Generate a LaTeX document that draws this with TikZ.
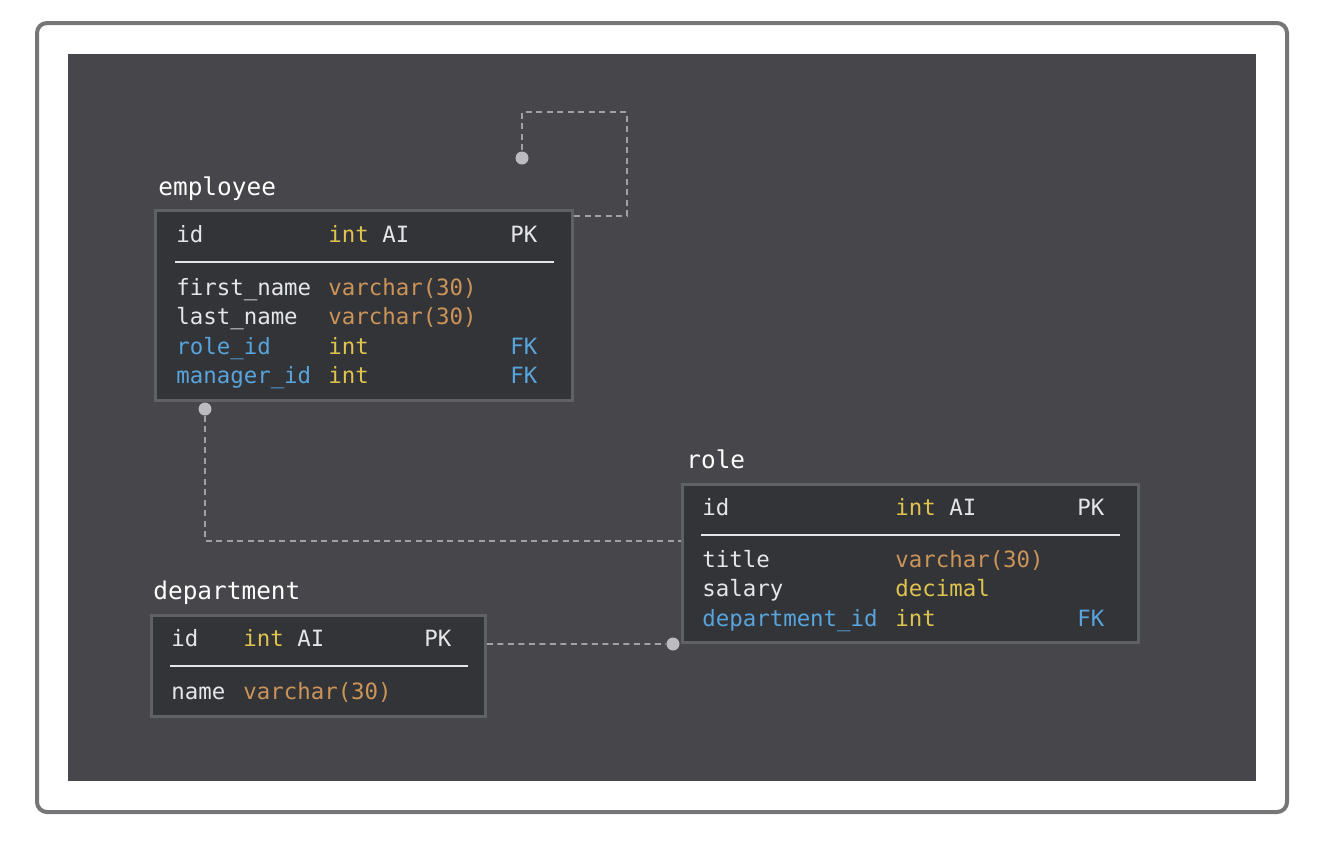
\documentclass[tikz,border=0pt]{standalone}
\usepackage{fontspec}
\setmonofont{DejaVu Sans Mono}
\usepackage{tikz}
\usetikzlibrary{positioning,calc}
\usepackage{xcolor}
\definecolor{framecolor}{RGB}{118, 118, 120}
\definecolor{bgcolor}{RGB}{70, 70, 75}
\definecolor{tblcolor}{RGB}{51, 52, 56}
\definecolor{tbledge}{RGB}{96, 97, 102}
\definecolor{txtcolor}{RGB}{230, 230, 232}
\definecolor{intcolor}{RGB}{222, 196, 78}
\definecolor{varcolor}{RGB}{204, 148, 88}
\definecolor{fkcolor}{RGB}{88, 164, 220}
\definecolor{linkcolor}{RGB}{160, 160, 165}
\definecolor{dotcolor}{RGB}{188, 188, 192}
\newcommand{\ity}[1]{\textcolor{intcolor}{#1}}
\newcommand{\vty}[1]{\textcolor{varcolor}{#1}}
\newcommand{\fk}[1]{\textcolor{fkcolor}{#1}}

\begin{document}
\begin{tikzpicture}[
    x=0.02cm, y=-0.02cm,
    font=\ttfamily\fontsize{12.75}{15}\selectfont,
    tbl/.style={draw=tbledge, fill=tblcolor, line width=0.06cm, inner sep=0pt},
    title/.style={anchor=west, inner sep=0pt, text=white, font=\ttfamily\fontsize{13.9}{16}\selectfont, text height=10pt, text depth=0pt},
    cell/.style={anchor=west, inner sep=0pt, text=txtcolor, text height=9.3pt, text depth=0pt},
    rule/.style={draw=txtcolor, line width=0.04cm},
    link/.style={draw=linkcolor, line width=0.035cm, dash pattern=on 0.12cm off 0.09cm},
    dot/.style={circle, fill=dotcolor, inner sep=0pt, minimum size=0.26cm}
]
    \useasboundingbox (0,0) rectangle (1318,850);
    % Frame and canvas
    \draw[framecolor, line width=0.08cm, fill=white, rounded corners=0.2cm] (37,23) rectangle (1287,812);
    \fill[bgcolor] (68,54) rectangle (1256,781);

    % employee
    \node[title] (emptitle) at (158,187) {employee};
    \node[tbl, minimum width=8.36cm, minimum height=3.8cm] (employee) at (364,305.5) {};
    \draw[rule] (175,262) -- (554,262);
    \foreach \y/\a/\b/\c [count=\i] in {
        234/id/\ity{int} AI/PK,
        287/first\_name/\vty{varchar(30)}/,
        316/last\_name/\vty{varchar(30)}/,
        346/\fk{role\_id}/\ity{int}/\fk{FK},
        375/\fk{manager\_id}/\ity{int}/\fk{FK}} {
        \node[cell] (emp-a\i) at (176,\y) {\a};
        \node[cell] (emp-b\i) at (328,\y) {\b};
        \node[cell] (emp-c\i) at (510,\y) {\c};
    }

    % role
    \node[title] (roletitle) at (686,460) {role};
    \node[tbl, minimum width=9.12cm, minimum height=3.16cm] (role) at (910.5,563.5) {};
    \draw[rule] (701,535) -- (1120,535);
    \foreach \y/\a/\b/\c [count=\i] in {
        507/id/\ity{int} AI/PK,
        559/title/\vty{varchar(30)}/,
        588/salary/\ity{decimal}/,
        618/\fk{department\_id}/\ity{int}/\fk{FK}} {
        \node[cell] (role-a\i) at (702,\y) {\a};
        \node[cell] (role-b\i) at (895,\y) {\b};
        \node[cell] (role-c\i) at (1077,\y) {\c};
    }

    % department
    \node[title] (depttitle) at (153,591) {department};
    \node[tbl, minimum width=6.68cm, minimum height=2.02cm] (department) at (318.5,666) {};
    \draw[rule] (170,666) -- (468,666);
    \foreach \y/\a/\b/\c [count=\i] in {
        638/id/\ity{int} AI/PK,
        691/name/\vty{varchar(30)}/} {
        \node[cell] (dept-a\i) at (171,\y) {\a};
        \node[cell] (dept-b\i) at (243,\y) {\b};
        \node[cell] (dept-c\i) at (424,\y) {\c};
    }

    % Relations
    \node[dot] (selfdot) at (522,158) {};
    \node[dot] (mgrdot) at (205,409) {};
    \node[dot] (deptdot) at (673,644) {};
    \coordinate (selfturn) at (627,112);
    \draw[link] ($(employee.north east)+(0,7)$) -| (selfturn) -| (selfdot);
    \draw[link] (mgrdot) |- ($(role.north west)+(0,58)$);
    \draw[link] ($(department.north east)+(0,30)$) -- (deptdot);
\end{tikzpicture}
\end{document}
